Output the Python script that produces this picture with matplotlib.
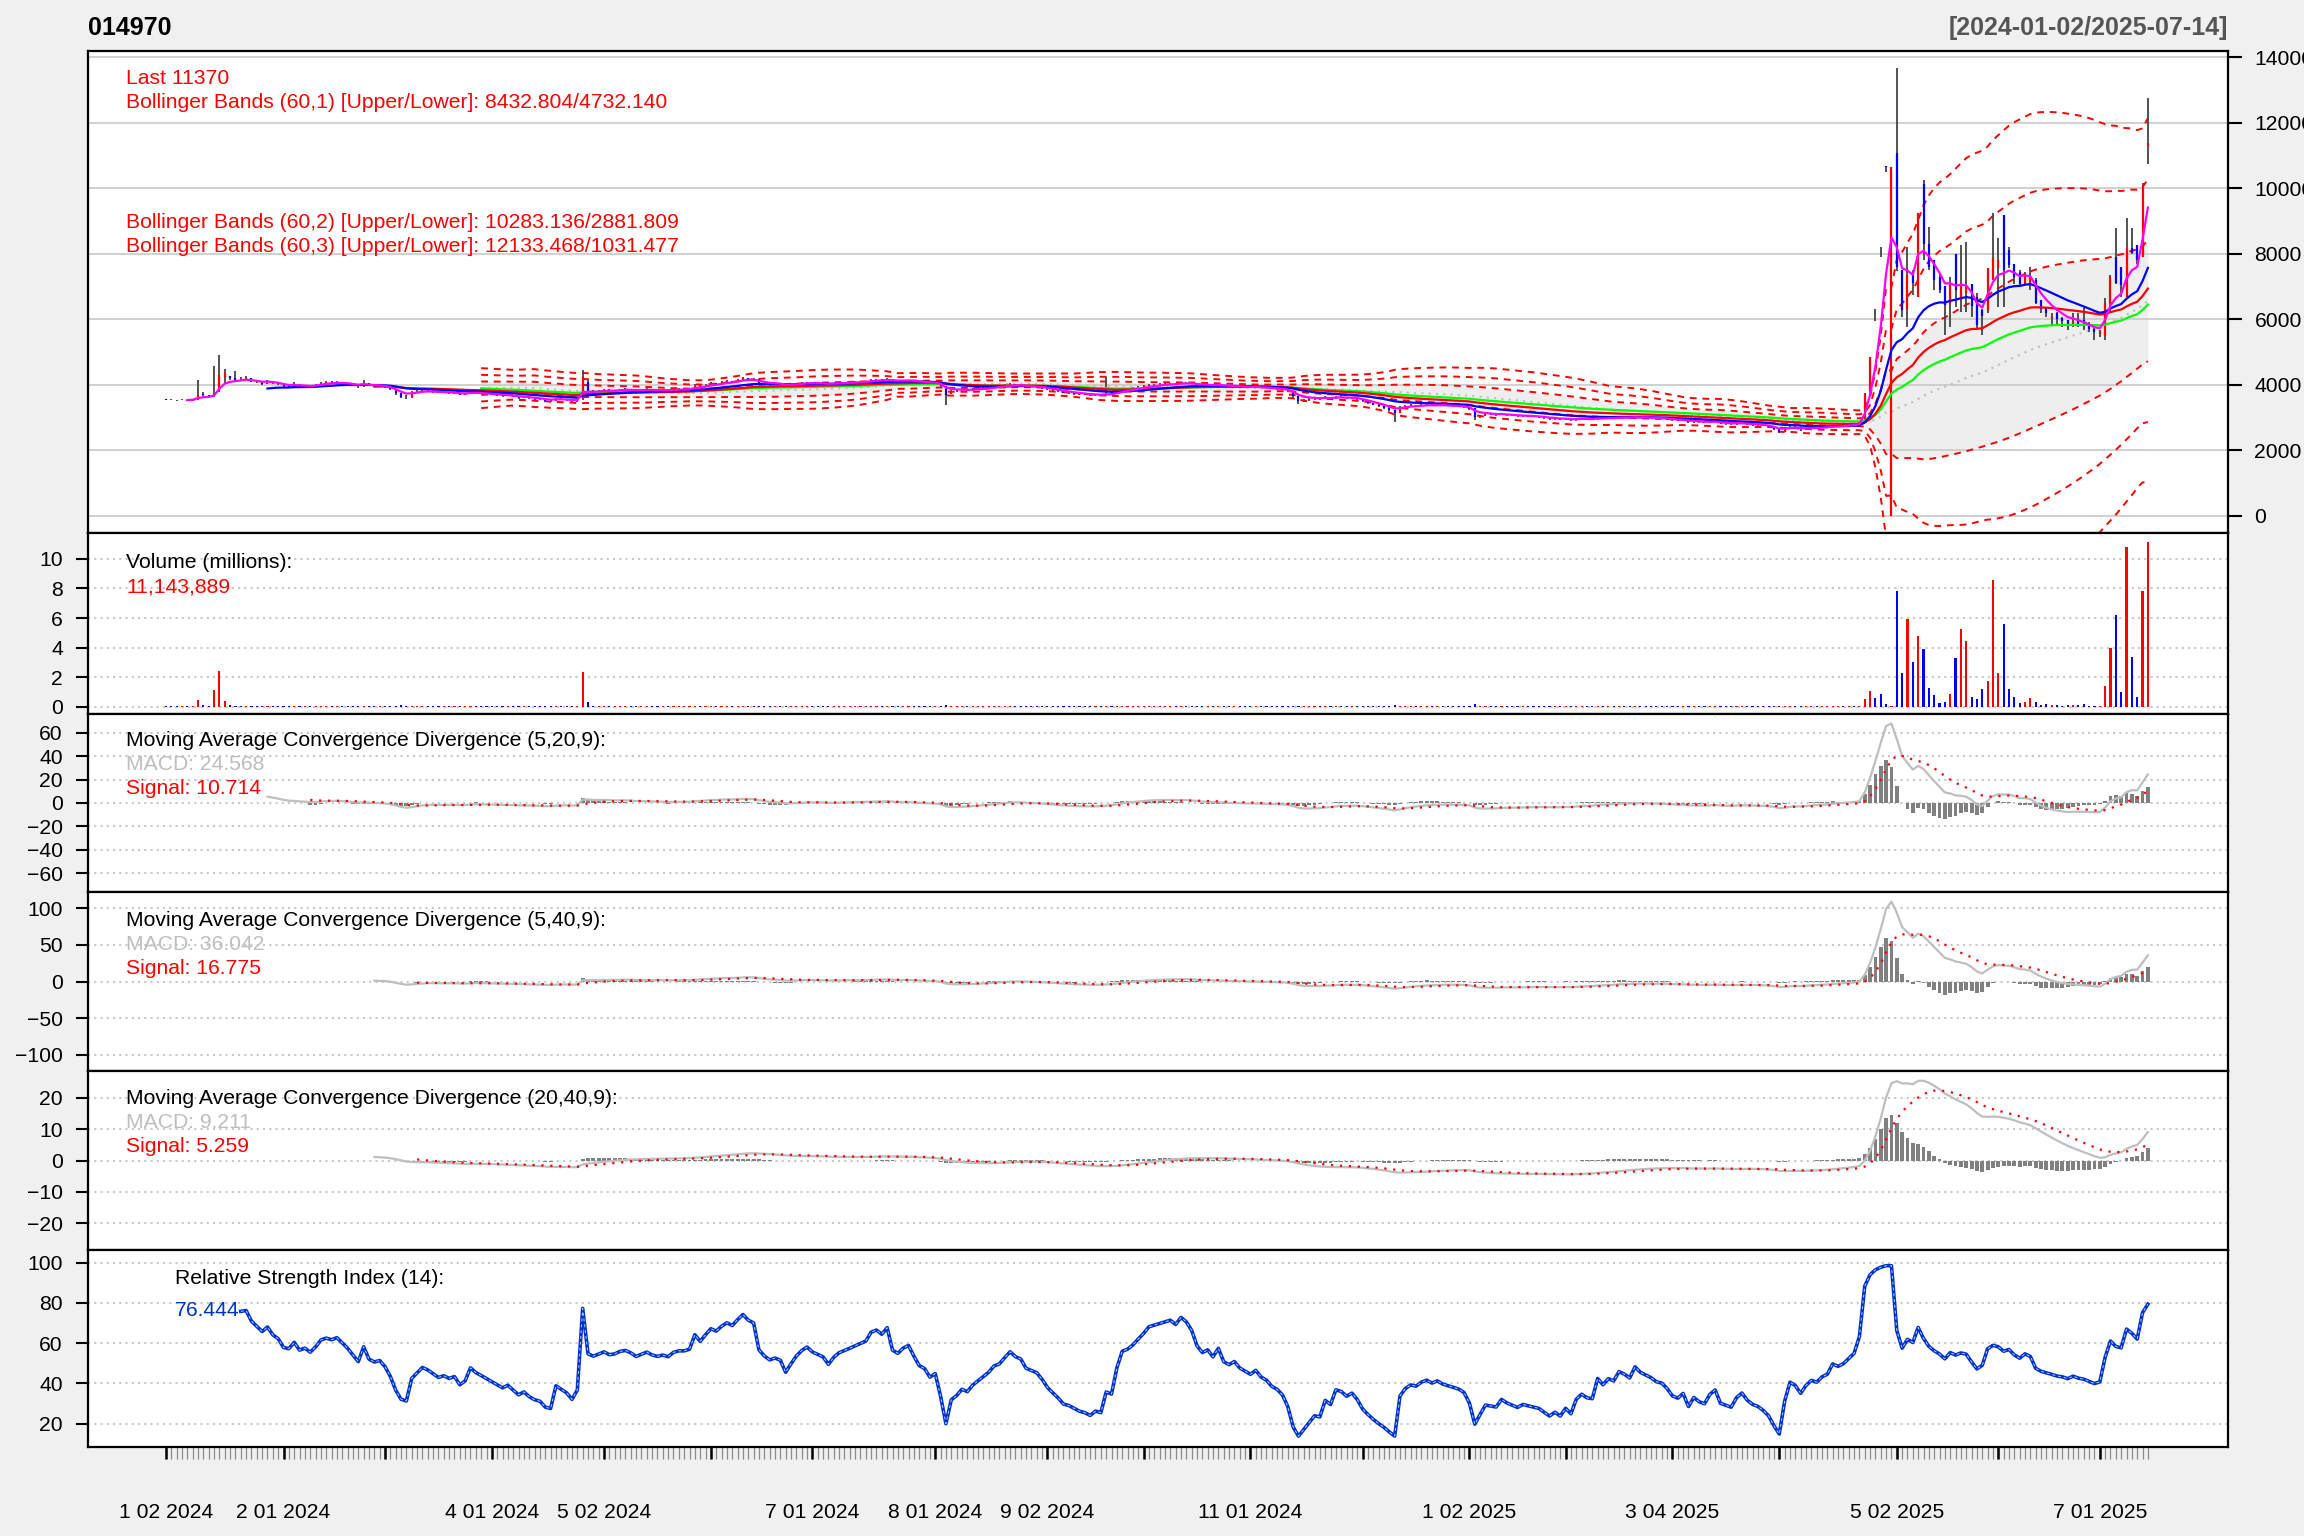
import numpy as np
import pandas as pd
import matplotlib
matplotlib.use("Agg")
import matplotlib.pyplot as plt

plt.rcParams['font.family'] = ['Liberation Sans', 'DejaVu Sans']

# KRX trading calendar (weekday holidays)
krx_holidays = ['2024-02-09', '2024-02-12', '2024-03-01', '2024-04-10', '2024-05-01',
                '2024-05-06', '2024-05-15', '2024-06-06', '2024-08-15', '2024-09-16',
                '2024-09-17', '2024-09-18', '2024-10-01', '2024-10-03', '2024-10-09',
                '2024-12-25', '2024-12-31', '2025-01-01', '2025-01-27', '2025-01-28',
                '2025-01-29', '2025-01-30', '2025-03-03', '2025-05-01', '2025-05-05',
                '2025-05-06', '2025-06-03', '2025-06-06']
dates = pd.bdate_range('2024-01-02', '2025-07-14', freq='C', holidays=krx_holidays)

# daily prices, one line per month
opens = [
    3560, 3550, 3540, 3530, 3545, 3520, 3560, 3720, 3690, 3650, 3800, 4250, 4270, 4200, 4190, 4180, 4200, 4120, 4080, 4040, 4110, 4050,
    4020, 3950, 3940, 4010, 3950, 3970, 3940, 3990, 4060, 4080, 4070, 4090, 4060, 4030, 3990, 3950, 4060, 3980, 3960,
    3970, 3930, 3860, 3740, 3640, 3620, 3760, 3800, 3840, 3820, 3790, 3760, 3770, 3750, 3760, 3700, 3720, 3790, 3760, 3740,
    3720, 3700, 3680, 3660, 3670, 3640, 3610, 3620, 3590, 3570, 3560, 3520, 3510, 3580, 3560, 3540, 3500, 3560, 4100, 3820, 3790,
    3820, 3850, 3820, 3830, 3860, 3870, 3850, 3820, 3840, 3860, 3840, 3830, 3840, 3830, 3860, 3870, 3870, 3880, 3980, 3950,
    4000, 4050, 4040, 4080, 4110, 4100, 4150, 4200, 4180, 4170, 4060, 4030, 4010, 4020, 4010, 3950, 3990, 4030, 4060,
    4080, 4060, 4050, 4040, 4010, 4040, 4060, 4070, 4080, 4090, 4100, 4110, 4150, 4160, 4150, 4180, 4120, 4110, 4130, 4140, 4110, 4080, 4070,
    4040, 4050, 3950, 3750, 3800, 3820, 3850, 3830, 3860, 3880, 3900, 3920, 3950, 3960, 3990, 4020, 4000, 3990, 3950, 3940, 3930,
    3900, 3860, 3830, 3800, 3760, 3750, 3730, 3710, 3700, 3680, 3690, 3680, 3740, 3720, 3800, 3870, 3880, 3900,
    3930, 3960, 4000, 4010, 4020, 4030, 4040, 4030, 4070, 4060, 4040, 4000, 3980, 3990, 3970, 4000, 3960, 3950, 3960, 3940,
    3930, 3920, 3930, 3910, 3900, 3880, 3870, 3850, 3800, 3650, 3520, 3540, 3560, 3580, 3570, 3620, 3590, 3640, 3630, 3600, 3610,
    3570, 3500, 3450, 3400, 3350, 3300, 3230, 3150, 3320, 3360, 3380, 3370, 3390, 3400, 3380, 3390, 3370, 3360, 3350, 3340,
    3320, 3280, 3020, 3060, 3100, 3090, 3080, 3110, 3080, 3060, 3040, 3050, 3040, 3030, 3020, 2990, 2960, 2970,
    2940, 2960, 2920, 2960, 2975, 2955, 2950, 3010, 2980, 3000, 2990, 3020, 3010, 2995, 3030, 3010, 3000, 2990, 2975, 2970,
    2950, 2920, 2910, 2920, 2860, 2880, 2860, 2850, 2870, 2880, 2820, 2810, 2800, 2820, 2830, 2800, 2780, 2770, 2750, 2720,
    2640, 2560, 2650, 2720, 2700, 2650, 2680, 2700, 2690, 2710, 2720, 2740, 2770, 2760, 2810, 2800, 2900, 3800, 6318, 8210, 10670, 0,
    11058, 7500, 6300, 7400, 6690, 10140, 8300, 7800, 7300, 7000, 6500, 8000, 6600, 6800, 7090, 6690, 6280, 6280, 7200,
    7550, 9180, 8100, 7700, 7450, 7090, 7000, 7200, 6590, 6380, 6050, 6200, 6050, 5980, 5850, 6000, 5980, 5800, 5700,
    5550, 5500, 6500, 7900, 7600, 6690, 8160, 8280, 7900, 11300,
]
highs = [
    3580, 3560, 3550, 3560, 3550, 3580, 4150, 3780, 3700, 4575, 4910, 4470, 4280, 4430, 4230, 4280, 4210, 4130, 4100, 4160, 4120, 4070,
    4030, 3980, 4080, 4020, 4000, 3980, 4020, 4100, 4110, 4120, 4120, 4100, 4070, 4040, 4000, 4150, 4070, 4000, 4000,
    3980, 3940, 3870, 3750, 3680, 3800, 3830, 3870, 3860, 3830, 3800, 3800, 3780, 3790, 3770, 3740, 3820, 3800, 3770, 3750,
    3730, 3710, 3690, 3700, 3680, 3650, 3640, 3630, 3600, 3590, 3570, 3540, 3610, 3590, 3570, 3550, 3560, 4450, 4150, 3850, 3850,
    3880, 3860, 3850, 3880, 3900, 3880, 3860, 3860, 3890, 3870, 3850, 3860, 3850, 3880, 3890, 3890, 3900, 4020, 3990, 4030,
    4080, 4070, 4110, 4140, 4130, 4180, 4240, 4220, 4200, 4180, 4070, 4050, 4040, 4030, 4020, 4010, 4060, 4080, 4100,
    4090, 4080, 4060, 4050, 4060, 4080, 4090, 4100, 4110, 4120, 4130, 4180, 4190, 4180, 4210, 4190, 4140, 4150, 4160, 4150, 4120, 4100, 4080,
    4070, 4060, 3960, 3850, 3860, 3880, 3870, 3890, 3910, 3930, 3950, 3980, 3990, 4020, 4060, 4040, 4020, 4000, 3970, 3960, 3940,
    3910, 3870, 3840, 3810, 3780, 3760, 3740, 3730, 3710, 3720, 3710, 4250, 3780, 3830, 3900, 3910, 3930, 3960,
    3990, 4030, 4040, 4050, 4060, 4070, 4060, 4100, 4090, 4070, 4050, 4010, 4010, 4000, 4020, 4010, 3980, 3980, 3970, 3960,
    3950, 3950, 3940, 3930, 3910, 3900, 3880, 3860, 3810, 3660, 3570, 3590, 3610, 3600, 3650, 3630, 3670, 3660, 3640, 3630, 3620,
    3580, 3510, 3460, 3410, 3360, 3310, 3240, 3350, 3390, 3410, 3400, 3420, 3430, 3420, 3420, 3400, 3390, 3380, 3370, 3350,
    3330, 3290, 3090, 3130, 3120, 3110, 3140, 3120, 3090, 3070, 3070, 3060, 3050, 3040, 3030, 3000, 2990, 2980,
    2975, 2970, 2975, 2990, 2985, 2965, 3025, 3015, 3010, 3005, 3035, 3030, 3015, 3045, 3040, 3020, 3010, 3000, 2985, 2980,
    2965, 2935, 2935, 2930, 2895, 2890, 2870, 2885, 2895, 2890, 2830, 2820, 2835, 2845, 2840, 2810, 2790, 2780, 2760, 2730,
    2650, 2670, 2750, 2730, 2710, 2700, 2720, 2720, 2730, 2740, 2780, 2770, 2780, 2800, 2820, 2900, 3740, 4860, 6318, 8210, 10670, 0,
    13650, 7500, 8210, 7500, 9230, 10250, 8820, 7800, 7400, 7000, 7300, 8000, 8260, 8360, 7090, 6790, 6300, 7550, 9230,
    8470, 9180, 8210, 7700, 7500, 7450, 7600, 7250, 6590, 6380, 6180, 6230, 6080, 5980, 6180, 6180, 6330, 5930, 5770,
    5670, 6640, 7350, 8770, 7600, 9080, 8770, 8280, 10150, 12740,
]
lows = [
    3530, 3525, 3520, 3525, 3505, 3515, 3550, 3650, 3620, 3640, 3780, 4050, 4150, 4100, 4120, 4150, 4090, 4050, 4000, 4030, 4020, 3990,
    3900, 3920, 3930, 3930, 3940, 3900, 3930, 3980, 4040, 4040, 4050, 4030, 4000, 3960, 3900, 3940, 3950, 3930, 3940,
    3900, 3840, 3700, 3600, 3560, 3610, 3740, 3780, 3790, 3760, 3740, 3740, 3720, 3730, 3680, 3680, 3710, 3740, 3720, 3700,
    3680, 3660, 3640, 3650, 3620, 3580, 3590, 3570, 3540, 3530, 3490, 3480, 3500, 3540, 3520, 3470, 3490, 3550, 3780, 3760, 3770,
    3800, 3800, 3800, 3820, 3840, 3830, 3800, 3810, 3830, 3820, 3810, 3810, 3810, 3820, 3850, 3850, 3860, 3870, 3930, 3940,
    3990, 4020, 4030, 4060, 4080, 4090, 4140, 4160, 4150, 4030, 4000, 3980, 3990, 3990, 3920, 3940, 3980, 4020, 4050,
    4040, 4030, 4020, 3990, 4000, 4030, 4050, 4060, 4070, 4080, 4090, 4100, 4140, 4130, 4140, 4100, 4090, 4100, 4120, 4090, 4060, 4050, 4020,
    4020, 3930, 3380, 3720, 3780, 3800, 3800, 3820, 3850, 3870, 3890, 3910, 3930, 3950, 3980, 3980, 3970, 3930, 3920, 3910, 3880,
    3840, 3810, 3780, 3740, 3730, 3700, 3690, 3680, 3650, 3660, 3660, 3670, 3700, 3710, 3790, 3850, 3870, 3890,
    3920, 3950, 3980, 3990, 4000, 4010, 4010, 4020, 4040, 4020, 3980, 3960, 3960, 3950, 3960, 3940, 3930, 3930, 3920, 3910,
    3900, 3900, 3890, 3880, 3860, 3850, 3830, 3780, 3590, 3420, 3490, 3520, 3540, 3540, 3560, 3570, 3580, 3610, 3580, 3580, 3550,
    3480, 3420, 3380, 3320, 3270, 3200, 2880, 3140, 3300, 3340, 3340, 3350, 3370, 3360, 3360, 3350, 3340, 3330, 3320, 3300,
    3220, 2930, 3000, 3040, 3070, 3060, 3070, 3060, 3040, 3020, 3020, 3020, 3010, 3000, 2970, 2940, 2940, 2920,
    2925, 2905, 2910, 2945, 2940, 2935, 2940, 2965, 2970, 2975, 2980, 2995, 2980, 2985, 2995, 2985, 2975, 2960, 2955, 2935,
    2900, 2890, 2895, 2840, 2845, 2840, 2830, 2835, 2855, 2800, 2790, 2780, 2785, 2800, 2780, 2760, 2750, 2730, 2700, 2610,
    2520, 2550, 2640, 2680, 2600, 2640, 2660, 2670, 2680, 2700, 2710, 2730, 2740, 2750, 2770, 2790, 2880, 3700, 5950, 7900, 10500, 0,
    7470, 6080, 5770, 6740, 6690, 7800, 7500, 6890, 6790, 5520, 5770, 6380, 6230, 6230, 6080, 5670, 5520, 6200, 7200,
    6380, 6380, 7550, 7090, 7000, 7050, 6890, 6480, 6180, 6080, 5820, 5820, 5770, 5670, 5770, 5770, 5670, 5620, 5370,
    5470, 5370, 6200, 7090, 6690, 6690, 8000, 7700, 7900, 10750,
]
closes = [
    3550, 3540, 3530, 3545, 3520, 3560, 3700, 3680, 3650, 3760, 4300, 4350, 4200, 4150, 4180, 4200, 4120, 4080, 4040, 4110, 4050, 4020,
    3950, 3940, 4010, 3950, 3970, 3940, 3990, 4060, 4080, 4070, 4090, 4060, 4030, 3990, 3950, 4060, 3980, 3960, 3970,
    3930, 3860, 3740, 3640, 3620, 3760, 3800, 3840, 3820, 3790, 3760, 3770, 3750, 3760, 3700, 3720, 3790, 3760, 3740, 3720,
    3700, 3680, 3660, 3670, 3640, 3610, 3620, 3590, 3570, 3560, 3520, 3510, 3580, 3560, 3540, 3500, 3530, 4250, 3820, 3790, 3820,
    3850, 3820, 3830, 3860, 3870, 3850, 3820, 3840, 3860, 3840, 3830, 3840, 3830, 3860, 3870, 3870, 3880, 3980, 3950, 4000,
    4050, 4040, 4080, 4110, 4100, 4150, 4200, 4180, 4170, 4060, 4030, 4010, 4020, 4010, 3950, 3990, 4030, 4060, 4080,
    4060, 4050, 4040, 4010, 4040, 4060, 4070, 4080, 4090, 4100, 4110, 4150, 4160, 4150, 4180, 4120, 4110, 4130, 4140, 4110, 4080, 4070, 4040,
    4050, 3950, 3700, 3800, 3820, 3850, 3830, 3860, 3880, 3900, 3920, 3950, 3960, 3990, 4020, 4000, 3990, 3950, 3940, 3930, 3900,
    3860, 3830, 3800, 3760, 3750, 3730, 3710, 3700, 3680, 3690, 3680, 3730, 3720, 3800, 3870, 3880, 3900, 3930,
    3960, 4000, 4010, 4020, 4030, 4040, 4030, 4070, 4060, 4040, 4000, 3980, 3990, 3970, 4000, 3960, 3950, 3960, 3940, 3930,
    3920, 3930, 3910, 3900, 3880, 3870, 3850, 3800, 3650, 3520, 3540, 3560, 3580, 3570, 3620, 3590, 3640, 3630, 3600, 3610, 3570,
    3500, 3450, 3400, 3350, 3300, 3230, 3150, 3320, 3360, 3380, 3370, 3390, 3400, 3380, 3390, 3370, 3360, 3350, 3340, 3320,
    3250, 3020, 3060, 3100, 3090, 3080, 3110, 3080, 3060, 3040, 3050, 3040, 3030, 3020, 2990, 2960, 2970, 2940,
    2960, 2920, 2960, 2975, 2955, 2950, 3010, 2980, 3000, 2990, 3020, 3010, 2995, 3030, 3010, 3000, 2990, 2975, 2970, 2950,
    2920, 2910, 2920, 2860, 2880, 2860, 2850, 2870, 2880, 2820, 2810, 2800, 2820, 2830, 2800, 2780, 2770, 2750, 2720, 2650,
    2560, 2650, 2720, 2700, 2650, 2680, 2700, 2690, 2710, 2720, 2760, 2750, 2760, 2780, 2800, 2880, 3740, 4860, 6310, 8200, 10660, 10660,
    7600, 6280, 7350, 7100, 9230, 8310, 7600, 7190, 6890, 6450, 7100, 6890, 7100, 7000, 6400, 5820, 6100, 7550, 7900,
    7800, 7500, 7650, 7300, 7090, 7400, 7250, 6500, 6300, 6200, 6100, 6000, 5950, 5850, 5950, 5850, 5800, 5700, 5600,
    5650, 6500, 7300, 7100, 7050, 8160, 8010, 7800, 10100, 11370,
]
# volume in millions of shares
volumes = [
    0.01, 0.01, 0.01, 0.02, 0.01, 0.03, 0.45, 0.08, 0.05, 1.13, 2.40, 0.38, 0.12, 0.06, 0.05, 0.05, 0.03, 0.03, 0.03, 0.04, 0.03, 0.02,
    0.03, 0.02, 0.03, 0.02, 0.02, 0.02, 0.02, 0.03, 0.03, 0.02, 0.02, 0.02, 0.02, 0.02, 0.03, 0.04, 0.03, 0.02, 0.02,
    0.02, 0.03, 0.06, 0.08, 0.05, 0.04, 0.03, 0.03, 0.02, 0.02, 0.02, 0.02, 0.02, 0.02, 0.03, 0.02, 0.03, 0.02, 0.02, 0.02,
    0.02, 0.02, 0.02, 0.02, 0.02, 0.02, 0.02, 0.02, 0.02, 0.02, 0.03, 0.02, 0.03, 0.02, 0.02, 0.03, 0.02, 2.35, 0.30, 0.06, 0.03,
    0.03, 0.02, 0.02, 0.02, 0.02, 0.02, 0.02, 0.02, 0.02, 0.02, 0.02, 0.02, 0.02, 0.02, 0.02, 0.02, 0.02, 0.04, 0.03, 0.03,
    0.03, 0.02, 0.03, 0.03, 0.02, 0.03, 0.04, 0.03, 0.02, 0.04, 0.03, 0.02, 0.02, 0.02, 0.03, 0.02, 0.02, 0.02, 0.02,
    0.02, 0.02, 0.02, 0.02, 0.02, 0.02, 0.02, 0.02, 0.02, 0.02, 0.02, 0.03, 0.02, 0.02, 0.03, 0.02, 0.02, 0.02, 0.02, 0.02, 0.02, 0.02, 0.02,
    0.02, 0.03, 0.08, 0.04, 0.03, 0.02, 0.02, 0.02, 0.02, 0.02, 0.02, 0.02, 0.02, 0.02, 0.03, 0.02, 0.02, 0.02, 0.02, 0.02, 0.02,
    0.02, 0.02, 0.02, 0.02, 0.02, 0.02, 0.02, 0.02, 0.02, 0.02, 0.02, 0.05, 0.02, 0.03, 0.03, 0.02, 0.02, 0.02,
    0.02, 0.02, 0.02, 0.02, 0.02, 0.02, 0.02, 0.02, 0.02, 0.02, 0.02, 0.02, 0.02, 0.02, 0.02, 0.02, 0.02, 0.02, 0.02, 0.02,
    0.02, 0.02, 0.02, 0.02, 0.02, 0.02, 0.02, 0.03, 0.06, 0.07, 0.03, 0.02, 0.02, 0.02, 0.02, 0.02, 0.02, 0.02, 0.02, 0.02, 0.02,
    0.02, 0.02, 0.02, 0.02, 0.03, 0.03, 0.08, 0.05, 0.03, 0.02, 0.02, 0.02, 0.02, 0.02, 0.02, 0.02, 0.02, 0.02, 0.02, 0.02,
    0.03, 0.15, 0.04, 0.03, 0.02, 0.02, 0.02, 0.02, 0.02, 0.02, 0.02, 0.02, 0.02, 0.02, 0.02, 0.02, 0.02, 0.02,
    0.02, 0.02, 0.02, 0.02, 0.02, 0.02, 0.02, 0.02, 0.02, 0.02, 0.02, 0.02, 0.02, 0.02, 0.02, 0.02, 0.02, 0.02, 0.02, 0.02,
    0.02, 0.02, 0.02, 0.02, 0.02, 0.02, 0.02, 0.02, 0.02, 0.02, 0.02, 0.02, 0.02, 0.02, 0.02, 0.02, 0.02, 0.02, 0.03, 0.04,
    0.05, 0.03, 0.03, 0.02, 0.04, 0.03, 0.02, 0.02, 0.05, 0.05, 0.05, 0.05, 0.04, 0.05, 0.04, 0.05, 0.52, 1.06, 0.59, 0.86, 0.18, 0.01,
    7.83, 2.28, 5.94, 3.02, 4.79, 3.91, 1.26, 0.79, 0.25, 0.32, 0.86, 3.30, 5.26, 4.45, 0.65, 0.52, 1.20, 1.74, 8.58,
    2.28, 5.60, 1.20, 0.65, 0.25, 0.32, 0.59, 0.32, 0.11, 0.18, 0.11, 0.11, 0.05, 0.11, 0.11, 0.11, 0.18, 0.05, 0.05,
    0.05, 1.40, 3.97, 6.21, 0.99, 10.81, 3.36, 0.65, 7.83, 11.143889,
]

# month starts that carry a date label on the x axis
labelled_months = ['2024-01', '2024-02', '2024-04', '2024-05', '2024-07', '2024-08', '2024-09',
                   '2024-11', '2025-01', '2025-03', '2025-05', '2025-07']

n = len(dates)
for arr in (opens, highs, lows, closes, volumes):
    assert len(arr) == n, (len(arr), n)

o = np.array(opens, float)
h = np.array(highs, float)
l = np.array(lows, float)
c = np.array(closes, float)
v = np.array(volumes, float)
x = np.arange(n)


def ema(series, period, wilder=False):
    series = np.asarray(series, float)
    out = np.full(len(series), np.nan)
    alpha = 1.0 / period if wilder else 2.0 / (period + 1)
    first = np.where(~np.isnan(series))[0][0]
    start = first + period - 1
    out[start] = series[first:start + 1].mean()
    for i in range(start + 1, len(series)):
        out[i] = out[i - 1] + alpha * (series[i] - out[i - 1])
    return out


# Bollinger bands on typical price, population sd
tp = pd.Series((h + l + c) / 3)
bb_mid = tp.rolling(60).mean().values
bb_sd = tp.rolling(60).std(ddof=0).values

ema5, ema20, ema40, ema60 = ema(c, 5), ema(c, 20), ema(c, 40), ema(c, 60)


def macd(fast, slow, sig=9):
    m = 100 * (ema(c, fast) / ema(c, slow) - 1)
    s = ema(m, sig)
    return m, s, m - s


mom = np.diff(c, prepend=np.nan)
up = np.where(np.isnan(mom), np.nan, np.clip(mom, 0, None))
dn = np.where(np.isnan(mom), np.nan, np.clip(-mom, 0, None))
mu, md = ema(up, 14, True), ema(dn, 14, True)
rsi = 100 * mu / (mu + md)

# ---------------- figure ----------------
W, H = 2304, 1536
L, R = 88, 2228
fig = plt.figure(figsize=(W / 100, H / 100), dpi=100, facecolor='#F0F0F0')


def panel(top, bottom):
    ax = fig.add_axes([L / W, 1 - bottom / H, (R - L) / W, (bottom - top) / H])
    ax.set_facecolor('white')
    ax.set_xlim(-14.6, 386)
    ax.set_xticks([])
    for s in ax.spines.values():
        s.set_linewidth(1.6)
        s.set_color('black')
    return ax


def ftext(px, py, s, **kw):
    kw.setdefault('fontsize', 15.2)
    fig.text(px / W, 1 - (py + 2) / H, s, va='center', **kw)


grid_c = '#C8C8C8'
dotted = (0, (1, 2))

# price panel
ax = panel(51.4, 533.4)
ax.set_ylim(-531, 14171)
yt = np.arange(0, 14001, 2000)
for t in yt:
    ax.axhline(t, color=grid_c, lw=1.2, zorder=1)
ax.fill_between(x, bb_mid - bb_sd, bb_mid + bb_sd, color='#EEEEEE', lw=0, zorder=0.5)
for k in (1, 2, 3):
    ax.plot(x, bb_mid + k * bb_sd, color='red', lw=1.4, ls=(0, (3.5, 3)), zorder=2)
    ax.plot(x, bb_mid - k * bb_sd, color='red', lw=1.4, ls=(0, (3.5, 3)), zorder=2)
ax.plot(x, bb_mid, color='#BEBEBE', lw=1.5, ls=(0, (1, 2.5)), zorder=2)
up_day = c >= o
ax.vlines(x, l, h, color='#444444', lw=1.3, zorder=3)
ax.vlines(x, np.minimum(o, c), np.maximum(o, c), colors=np.where(up_day, '#FF0000', '#0000FF'),
          lw=1.6, zorder=3.5)
ax.plot(x, ema60, color='#00FF00', lw=1.6, zorder=4)
ax.plot(x, ema40, color='#FF0000', lw=1.6, zorder=4)
ax.plot(x, ema20, color='#0000FF', lw=1.6, zorder=4)
ax.plot(x, ema5, color='#FF00FF', lw=1.6, zorder=4.5)
ax.yaxis.tick_right()
ax.set_yticks(yt)
ax.tick_params(axis='y', length=10, width=1.5, pad=9, labelsize=15.2)

# volume panel
axv = panel(533.4, 714)
axv.set_ylim(-0.5, 11.73)
vt = np.arange(0, 11, 2)
for t in vt:
    axv.axhline(t, color=grid_c, lw=1.5, ls=dotted, zorder=0)
axv.bar(x, v, width=0.4, color=np.where(up_day, '#FF0000', '#0000FF'), zorder=2)
axv.set_yticks(vt)

# MACD panels
macd_specs = [((5, 20), (714, 892), 76.0, np.arange(-60, 61, 20)),
              ((5, 40), (892, 1071), 122.2, np.arange(-100, 101, 50)),
              ((20, 40), (1071, 1250), 28.5, np.arange(-20, 21, 10))]
macd_axes = []
for (fast, slow), (top, bot), lim, ticks in macd_specs:
    axm = panel(top, bot)
    axm.set_ylim(-lim, lim)
    for t in ticks:
        axm.axhline(t, color=grid_c, lw=1.5, ls=dotted, zorder=0)
    m, s, hist = macd(fast, slow)
    axm.bar(x, hist, width=0.72, color='#808080', zorder=2)
    axm.plot(x, m, color='#BEBEBE', lw=1.6, zorder=3)
    axm.plot(x, s, color='#FF0000', lw=1.6, ls=(0, (1, 3)), zorder=3)
    axm.set_yticks(ticks)
    macd_axes.append(axm)

# RSI panel
axr = panel(1250, 1446.5)
axr.set_ylim(8.7, 106.3)
rt = np.arange(20, 101, 20)
for t in rt:
    axr.axhline(t, color=grid_c, lw=1.5, ls=dotted, zorder=0)
axr.plot(x, rsi, color='#0033CC', lw=2.6, zorder=3)
axr.plot(x, rsi, color='#B8C8FF', lw=0.7, ls=(0, (3, 3)), zorder=3.5)
axr.set_yticks(rt)

for a in [axv] + macd_axes + [axr]:
    a.yaxis.tick_left()
    a.tick_params(axis='y', length=9, width=1.5, pad=9, labelsize=15.2)

# x axis: a tick per bar, month starts in black
trans = axr.get_xaxis_transform()
axr.vlines(x, -0.066, 0, transform=trans, colors='#8A8A8A', lw=0.9, clip_on=False)
months = pd.Series(x, index=dates).groupby(dates.strftime('%Y-%m')).first()
axr.vlines(months.values, -0.066, 0, transform=trans, colors='black', lw=1.8, clip_on=False)
for key in labelled_months:
    pos = months[key]
    d = dates[pos]
    axr.text(pos, -(1512 - 1446.5) / 196.5, f"{d.month} {d.day:02d} {d.year}", transform=trans,
             ha='center', va='center', fontsize=15.2)

# titles and legends
ftext(88, 26, '014970', fontsize=18, fontweight='bold')
ftext(2228, 26, '[2024-01-02/2025-07-14]', fontsize=18, fontweight='bold', color='#555555', ha='right')
ftext(126, 76, 'Last 11370', color='red')
ftext(126, 100, 'Bollinger Bands (60,1) [Upper/Lower]: 8432.804/4732.140', color='red')
ftext(126, 220, 'Bollinger Bands (60,2) [Upper/Lower]: 10283.136/2881.809', color='red')
ftext(126, 244, 'Bollinger Bands (60,3) [Upper/Lower]: 12133.468/1031.477', color='red')
ftext(126, 561, 'Volume (millions):')
ftext(126, 585, '11,143,889', color='red')
macd_legend = [('(5,20,9)', '24.568', '10.714', 739),
               ('(5,40,9)', '36.042', '16.775', 918),
               ('(20,40,9)', '9.211', '5.259', 1096)]
for params, mval, sval, y0 in macd_legend:
    ftext(126, y0, f'Moving Average Convergence Divergence {params}:')
    ftext(126, y0 + 24, f'MACD: {mval}', color='#BEBEBE')
    ftext(126, y0 + 48, f'Signal: {sval}', color='red')
ftext(175, 1277, 'Relative Strength Index (14):')
ftext(175, 1308, '76.444', color='#0033CC')

fig.savefig('out.png', dpi=100, facecolor=fig.get_facecolor())
